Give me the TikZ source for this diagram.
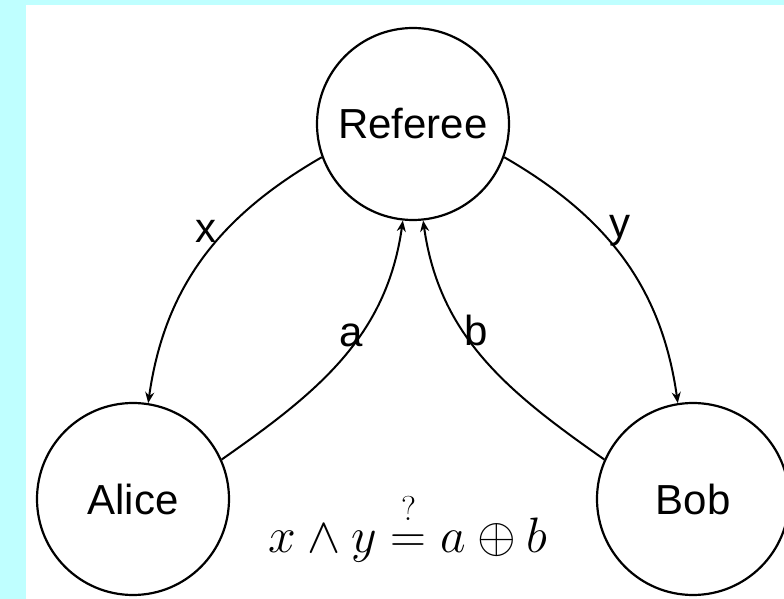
\documentclass[tikz,border=0pt]{standalone}
\usepackage{amsmath}
\usepackage{amssymb}
\usepackage{fontspec}
\setmainfont{Liberation Sans}
\usetikzlibrary{arrows.meta, positioning}
\definecolor{bgcyan}{RGB}{191,255,255}

\begin{document}
\begin{tikzpicture}[x=0.5pt, y=-0.5pt,
    player/.style={draw, circle, line width=1.1pt, minimum size=96pt, inner sep=0pt, font=\fontsize{21}{24}\selectfont},
    msg/.style={line width=1pt, -{Stealth[length=5.5pt, width=4.5pt]}},
    lbl/.style={font=\fontsize{21}{24}\selectfont, inner sep=1pt}]
  % 背景
  \fill[bgcyan] (0,0) rectangle (784,599);
  \fill[white] (26,5) rectangle (784,599);
  \useasboundingbox (0,0) rectangle (784,599);

  % 裁判与两名玩家
  \foreach \n/\x/\y/\t in {referee/413/124/Referee, alice/133/499/Alice, bob/693/499/Bob} {
    \node[player] (\n) at (\x, \y) {\t};
  }

  % 问题与回答
  \draw[msg] (referee.200) to[out=210, in=82] node[lbl, pos=0.38, left=3pt] {x} (alice.81);
  \draw[msg] (referee.340) to[out=330, in=98] node[lbl, pos=0.38, right=3pt] {y} (bob.99);
  \draw[msg] (alice.24) to[out=35, in=262] node[lbl, pos=0.6, left=-3pt] {a} (referee.264);
  \draw[msg] (bob.156) to[out=145, in=278] node[lbl, pos=0.62, right=-1pt] {b} (referee.276);

  % 胜利条件
  \node[font=\fontsize{26}{30}\selectfont] (win) at (408,527) {$x \wedge y \overset{\raisebox{2pt}{$\scriptstyle ?$}}{=} a \oplus b$};
\end{tikzpicture}
\end{document}
